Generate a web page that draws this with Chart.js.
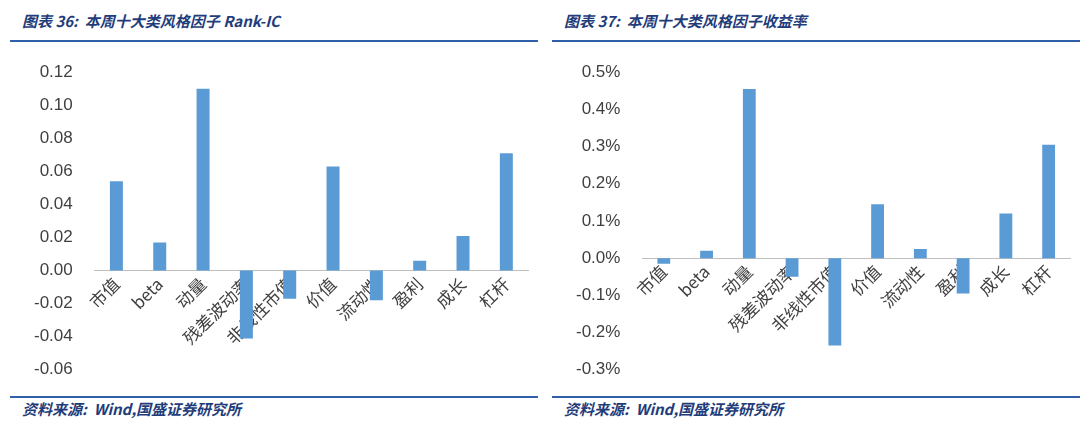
<!DOCTYPE html>
<html>
<head>
<meta charset="utf-8">
<script src="https://cdn.jsdelivr.net/npm/chart.js@4/dist/chart.umd.min.js"></script>
<style>
  body { margin: 0; background: #fff; font-family: "Noto Sans CJK SC", sans-serif; }
  .panel { position: absolute; top: 0; width: 528px; height: 430px; }
  .title { position: absolute; left: 12px; top: 10px; font-size: 15px; font-style: italic; font-weight: bold; color: #1f3d7a; }
  .topline { position: absolute; left: 0; right: 0; top: 40px; border-top: 2px solid #2e5fa8; }
  .botline { position: absolute; left: 0; right: 0; top: 396px; border-top: 2px solid #2e5fa8; }
  .source { position: absolute; left: 12px; top: 398px; font-size: 15px; font-style: italic; font-weight: bold; color: #1f3d7a; }
  .box { position: absolute; left: 0; top: 48px; width: 528px; height: 346px; }
</style>
</head>
<body>
<div class="panel" style="left:10px">
  <div class="title">图表 36:&nbsp; 本周十大类风格因子 Rank-IC</div>
  <div class="topline"></div>
  <div class="box"><canvas id="c1"></canvas></div>
  <div class="botline"></div>
  <div class="source">资料来源:&nbsp; Wind,国盛证券研究所</div>
</div>
<div class="panel" style="left:552px">
  <div class="title">图表 37:&nbsp; 本周十大类风格因子收益率</div>
  <div class="topline"></div>
  <div class="box"><canvas id="c2"></canvas></div>
  <div class="botline"></div>
  <div class="source">资料来源:&nbsp; Wind,国盛证券研究所</div>
</div>
<script>
// data
var factors = ['市值', 'beta', '动量', '残差波动率', '非线性市值', '价值', '流动性', '盈利', '成长', '杠杆'];
var rankIC = [0.054, 0.017, 0.110, -0.041, -0.017, 0.063, -0.018, 0.006, 0.021, 0.071];
var factorReturn = [-0.015, 0.020, 0.455, -0.050, -0.235, 0.145, 0.025, -0.095, 0.120, 0.305];

// build one bar chart
function makeChart(id, values, min, max, step, fmt) {
  return new Chart(document.getElementById(id), {
    type: 'bar',
    data: { labels: factors, datasets: [{ data: values, backgroundColor: '#5b9bd5', barPercentage: 0.3, categoryPercentage: 1 }] },
    options: {
      responsive: true, maintainAspectRatio: false, animation: false,
      layout: { padding: { left: 10, right: 10, top: 14, bottom: 0 } },
      plugins: { legend: { display: false }, tooltip: { enabled: false } },
      scales: {
        x: {
          position: { y: 0 },
          grid: { display: false, drawTicks: false },
          border: { color: '#bfbfbf' },
          ticks: { maxRotation: 45, minRotation: 45, color: '#404040', font: { size: 17, family: 'Noto Sans CJK SC' } }
        },
        y: {
          min: min, max: max,
          grid: { display: false },
          border: { display: false },
          ticks: { stepSize: step, color: '#404040', padding: 14, font: { size: 17, family: 'Liberation Sans' }, callback: fmt }
        }
      }
    }
  });
}

makeChart('c1', rankIC, -0.06, 0.12, 0.02, function(v) { return v.toFixed(2); });
makeChart('c2', factorReturn, -0.3, 0.5, 0.1, function(v) { return v.toFixed(1) + '%'; });
</script>
</body>
</html>
